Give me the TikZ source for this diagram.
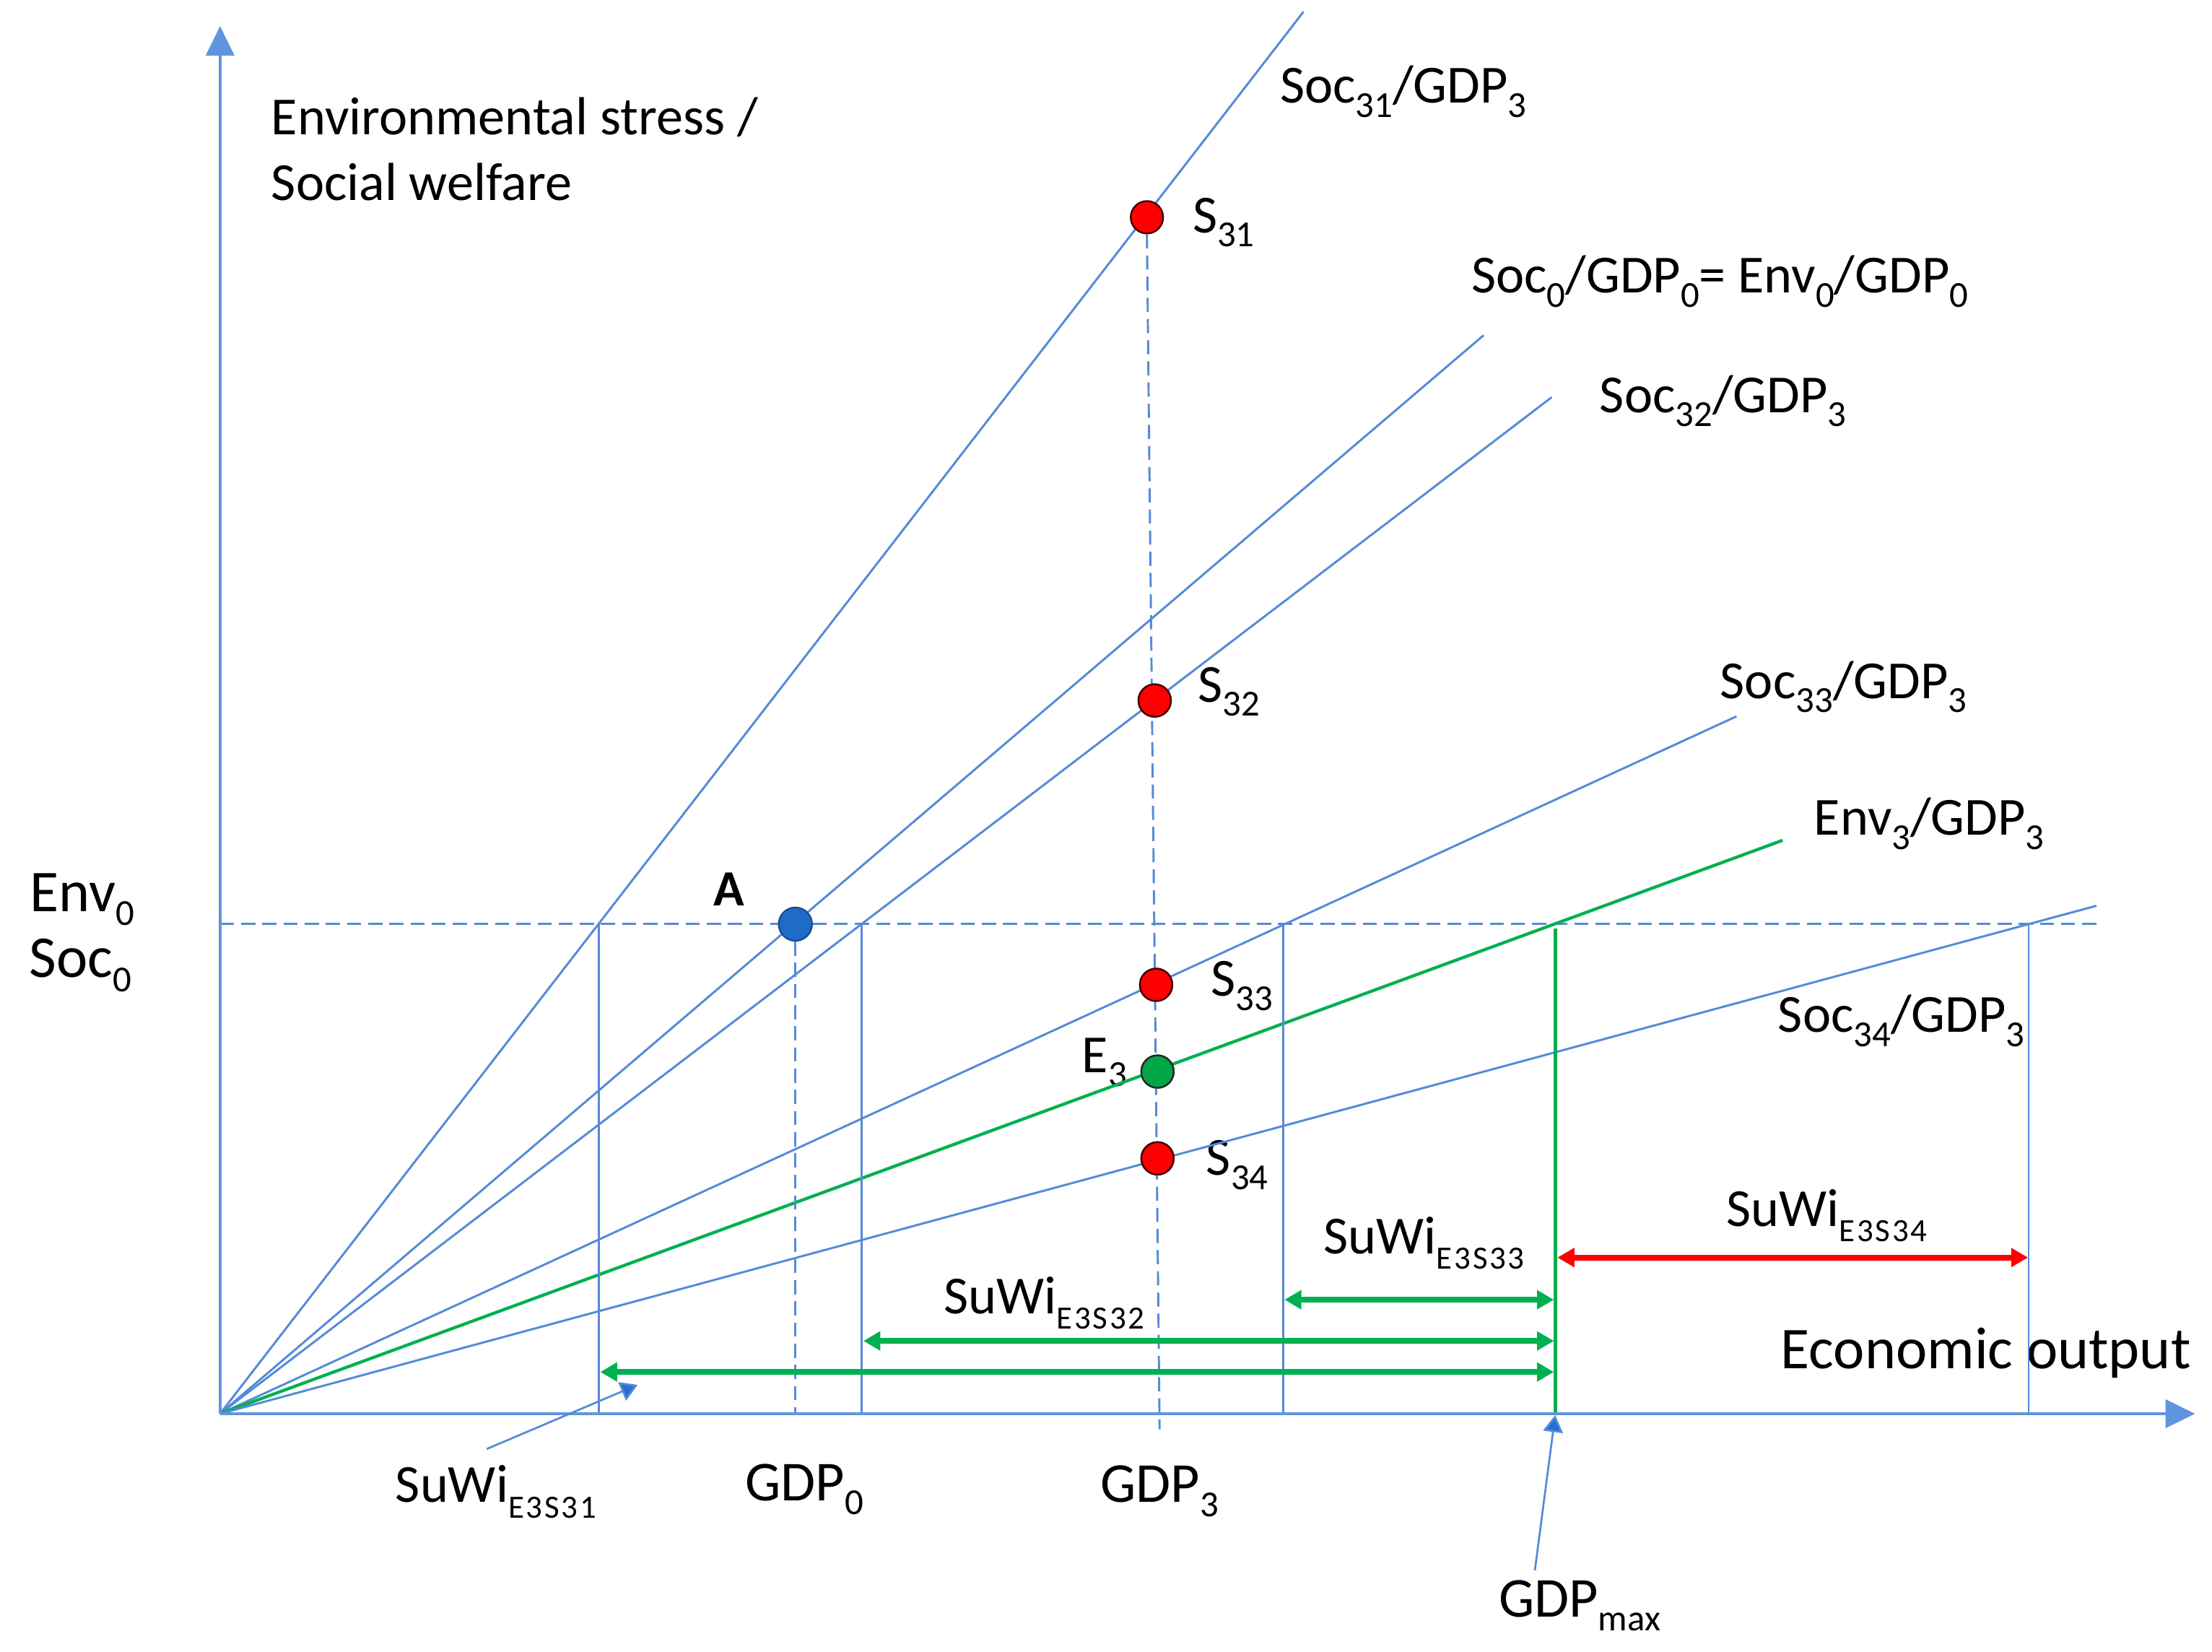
\documentclass[tikz,border=0pt]{standalone}
\usepackage{fontspec}
\setmainfont{Carlito}
\usetikzlibrary{arrows.meta,calc}
\definecolor{lblue}{RGB}{84,138,216}
\definecolor{axblue}{RGB}{96,148,222}
\definecolor{dblue}{RGB}{31,108,200}
\definecolor{ptrblue}{RGB}{40,110,210}
\definecolor{ggreen}{RGB}{0,176,80}
\definecolor{dotgreen}{RGB}{0,166,70}
\definecolor{rred}{RGB}{255,0,0}
\newcommand\lsub[1]{\raisebox{-5pt}{\fontsize{13}{13}\selectfont #1}}
\newcommand\ssub[1]{\raisebox{-5.5pt}{\fontsize{11.5}{13}\selectfont\addfontfeatures{LetterSpace=6}#1}}
\begin{document}
\begin{tikzpicture}[x=0.5pt,y=-0.5pt,
  thinb/.style={draw=lblue, line width=0.75pt},
  dashb/.style={draw=lblue, line width=0.75pt, dash pattern=on 5pt off 2.5pt},
  axisarrow/.style={draw=axblue, line width=1.1pt, -{Triangle[length=10.5pt,width=10pt]}},
  garrow/.style={draw=ggreen, line width=2.1pt, {Triangle[length=6pt,width=6.5pt]}-{Triangle[length=6pt,width=6.5pt]}},
  rarrow/.style={draw=rred, line width=2pt, {Triangle[length=6pt,width=6.5pt]}-{Triangle[length=6pt,width=6.5pt]}},
  ptr/.style={draw=lblue, line width=0.7pt, -{Triangle[length=6pt,width=7pt,fill=ptrblue]}},
  reddot/.style={circle, fill=rred, draw=black!75!red, line width=0.6pt, minimum size=11.5pt, inner sep=0pt},
  greendot/.style={circle, fill=dotgreen, draw=black!85, line width=0.6pt, minimum size=11.5pt, inner sep=0pt},
  bluedot/.style={circle, fill=dblue, draw=dblue!70!black, line width=0.6pt, minimum size=11.8pt, inner sep=0pt},
  lab/.style={anchor=base west, inner sep=0pt, font=\fontsize{19}{22}\selectfont},
  biglab/.style={anchor=base west, inner sep=0pt, font=\fontsize{20}{24}\selectfont}
]
\useasboundingbox (0,0) rectangle (1568,1170.4);

% key coordinates
\coordinate (O) at (156,1002);
\coordinate (ytip) at (156,18.5);
\coordinate (xtip) at (1556,1002);
\coordinate (e31) at (924,8.3);
\coordinate (e0) at (1051.7,237.6);
\coordinate (e32) at (1100,281.5);
\coordinate (e33) at (1231,507.7);
\coordinate (eE3) at (1263.6,595.6);
\coordinate (e34) at (1486,642);
\coordinate (hL) at (156,655);
\coordinate (hR) at (1486,655);

% vertical reference lines (at y = Env0)
\coordinate (v31t) at (424.5,655);  \coordinate (v31b) at (424.5,1002);
\coordinate (v32t) at (611,655);    \coordinate (v32b) at (611,1002);
\coordinate (v33t) at (909.5,655);  \coordinate (v33b) at (909.5,1002);
\coordinate (vEt) at (1102.5,658);  \coordinate (vEb) at (1102.5,1002);
\coordinate (v34t) at (1438,655);   \coordinate (v34b) at (1438,1002);
\coordinate (g0b) at (563.8,1002);
\coordinate (g3b) at (822,1013);

% texts
\node[lab] (ylab1) at (192,95.3) {Environmental stress /};
\node[lab] (ylab2) at (192,142) {Social welfare};
\node[biglab, font=\fontsize{21}{24}\selectfont] (env0) at (21,646) {Env\lsub{0}};
\node[biglab, font=\fontsize{21}{24}\selectfont] (soc0) at (20.5,692.7) {Soc\lsub{0}};
\node[lab, font=\fontsize{18}{22}\selectfont\bfseries] (Alab) at (505.5,642) {A};

\node[lab] (l31) at (907,73) {Soc\lsub{31}/GDP\lsub{3}};
\node[lab] (l0) at (1042.6,207.6) {Soc\lsub{0}/GDP\lsub{0}= Env\lsub{0}/GDP\lsub{0}};
\node[lab] (l32) at (1133.6,292.4) {Soc\lsub{32}/GDP\lsub{3}};
\node[lab] (l33) at (1219,495) {Soc\lsub{33}/GDP\lsub{3}};
\node[lab] (lE3) at (1285.6,592) {Env\lsub{3}/GDP\lsub{3}};
\node[lab] (l34) at (1260,731.6) {Soc\lsub{34}/GDP\lsub{3}};

\node[lab] (s31lab) at (845,165) {S\lsub{31}};
\node[lab] (s32lab) at (849,497.5) {S\lsub{32}};
\node[lab] (s33lab) at (858,706) {S\lsub{33}};
\node[lab] (e3lab) at (766.7,760) {E\lsub{3}};
\node[lab] (s34lab) at (854.7,833) {S\lsub{34}};

\node[lab] (w31) at (280,1064.7) {SuWi\ssub{E3S31}};
\node[lab] (w32) at (668.8,931) {SuWi\ssub{E3S32}};
\node[lab] (w33) at (938,888.4) {SuWi\ssub{E3S33}};
\node[lab] (w34) at (1223.5,869) {SuWi\ssub{E3S34}};

\node[biglab] (gdp0) at (528,1063.5) {GDP\lsub{0}};
\node[biglab] (gdp3) at (779.7,1064.7) {GDP\lsub{3}};
\node[biglab] (gdpmax) at (1062,1146) {GDP\lsub{max}};
\node[anchor=base west, inner sep=0pt, font=\fontsize{21}{24}\selectfont] (econ) at (1262,970) {Economic output};

% dashed guides
\draw[dashb] (hL) -- (hR);

% rays from origin
\draw[thinb] (O) -- (e31);
\draw[thinb] (O) -- (e0);
\draw[thinb] (O) -- (e32);
\draw[thinb] (O) -- (e33);
\draw[draw=ggreen, line width=1.1pt] (O) -- (eE3);
\draw[thinb] (O) -- (e34);

% vertical lines
\draw[thinb] (v31t) -- (v31b);
\draw[thinb] (v32t) -- (v32b);
\draw[thinb] (v33t) -- (v33b);
\draw[thinb] (v34t) -- (v34b);
\draw[draw=ggreen, line width=1.4pt] (vEt) -- (vEb);

% dots
\node[reddot] (S31) at (813,154) {};
\node[reddot] (S32) at (818.5,496.5) {};
\node[reddot] (S33) at (819.5,698) {};
\node[greendot] (E3) at (820.5,759.5) {};
\node[reddot] (S34) at (820.5,821) {};
\node[bluedot] (A) at (563.8,655) {};

\draw[dashb] (S31.south) -- (g3b);
\draw[dashb] (A.south) -- (g0b);
% redraw dots on top of the dashed guide
\node[reddot] at (S32) {};
\node[reddot] at (S33) {};
\node[greendot] at (E3) {};
\node[reddot] at (S34) {};

% axes
\draw[axisarrow] (O) -- (ytip);
\draw[axisarrow] (O) -- (xtip);

% SuWi arrows
\coordinate (a31l) at (425.5,972.4); \coordinate (a31r) at (1101.5,972.4);
\coordinate (a32l) at (612,950.4);   \coordinate (a32r) at (1101.5,950.4);
\coordinate (a33l) at (910.5,921.2); \coordinate (a33r) at (1101.5,921.2);
\coordinate (a34l) at (1104,891.3);  \coordinate (a34r) at (1437.6,891.3);
\draw[garrow] (a31l) -- (a31r);
\draw[garrow] (a32l) -- (a32r);
\draw[garrow] (a33l) -- (a33r);
\draw[rarrow] (a34l) -- (a34r);

% pointers
\coordinate (p31tail) at (345,1027);
\coordinate (p31tip) at (452,981.5);
\coordinate (pmtail) at (1088,1113);
\coordinate (pmtip) at (1102.4,1003);
\draw[ptr] (p31tail) -- (p31tip);
\draw[ptr] (pmtail) -- (pmtip);
\end{tikzpicture}
\end{document}
